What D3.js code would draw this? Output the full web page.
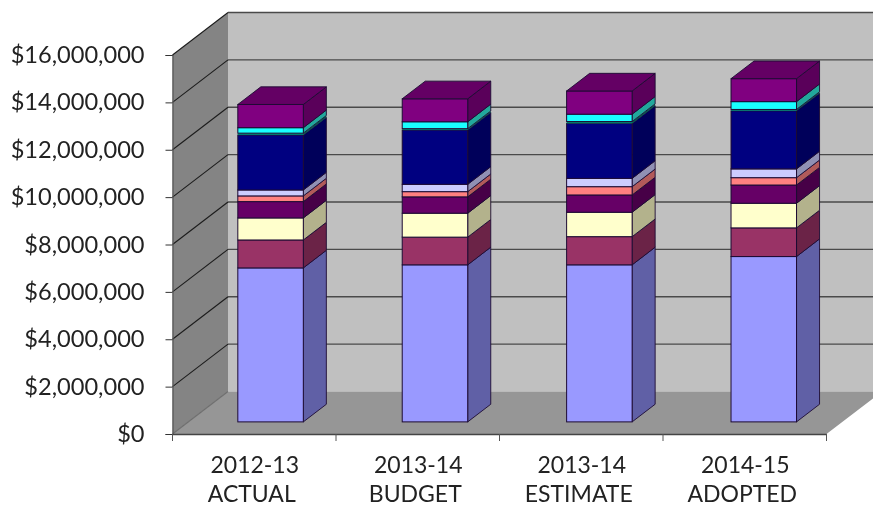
<!DOCTYPE html>
<html><head><meta charset="utf-8">
<script src="https://cdn.jsdelivr.net/npm/d3@7/dist/d3.min.js"></script>
<style>html,body{margin:0;padding:0;background:#fff;overflow:hidden}svg{display:block;filter:blur(0.35px)}</style>
</head><body><svg id="c" width="873" height="506"></svg>
<script>
const categories=[["2012-13","ACTUAL"],["2013-14","BUDGET"],["2013-14","ESTIMATE"],["2014-15","ADOPTED"]];
const tickValues=[0,2e6,4e6,6e6,8e6,10e6,12e6,14e6,16e6];
const lavender=[6.50,6.63,6.63,6.98];
const maroon=[1.18,1.17,1.19,1.21];
const cream=[0.93,1.01,1.03,1.04];
const plum=[0.69,0.69,0.73,0.77];
const salmon=[0.24,0.22,0.35,0.31];
const lilac=[0.25,0.31,0.35,0.37];
const navy=[2.32,2.29,2.32,2.45];
const teal=[0.08,0.06,0.08,0.06];
const cyan=[0.23,0.29,0.31,0.33];
const purple=[0.98,0.97,0.98,0.97];
const seriesValues=[lavender,maroon,cream,plum,salmon,lilac,navy,teal,cyan,purple];
const frontColors=["#9999ff","#993366","#ffffcc","#660066","#ff8080","#ccccff","#000080","#007a70","#19ffff","#800080"];
const sideColors=["#6060a6","#6b2347","#b3b28c","#470047","#b25a5a","#9090b4","#00005a","#005a50","#22a89c","#5a005a"];
const topColor="#640064";

const svg=d3.select("#c");
const x=d3.scaleBand().domain(d3.range(categories.length)).range([172.5,826.5]);
const y=d3.scaleLinear().domain([0,16e6]).range([434,55]);
const DX=55.5,DY=-42.5;
const proj=(px,py,z)=>[px+DX*z,py+DY*z];
const pts=a=>a.map(p=>p.join(",")).join(" ");
const x0=172.5,x1=826.5;

svg.append("rect").attr("x",x0+DX).attr("y",y(16e6)+DY).attr("width",873-x0-DX).attr("height",y(0)-y(16e6)).attr("fill","#c0c0c0");
svg.append("polygon").attr("points",pts([[x0,y(0)],[x0,y(16e6)],proj(x0,y(16e6),1),proj(x0,y(0),1)])).attr("fill","#848484");
svg.append("polygon").attr("points",pts([[x0,y(0)],[x1,y(0)],proj(x1,y(0),1),[900,y(0)+DY],proj(x0,y(0),1)])).attr("fill","#969696");

tickValues.forEach(v=>{
  const g=svg.append("g").attr("fill","none");
  if(v>0){
    g.append("line").attr("x1",x0+DX).attr("x2",873).attr("y1",y(v)+DY).attr("y2",y(v)+DY).attr("stroke","#4a4a4a").attr("stroke-width",1.3);
  }
  g.append("line").attr("x1",x0).attr("y1",y(v)).attr("x2",x0+DX).attr("y2",y(v)+DY).attr("stroke",v>0?"#1c1c1c":"#6e6e6e").attr("stroke-width",1.1);
});

const stack=d3.stack().keys(d3.range(seriesValues.length)).value((d,k)=>seriesValues[k][d]*1e6);
const layers=stack(d3.range(categories.length));
const barW=65.5,zFront=0.285,zBack=0.70,barStep=164.4;
const barX=i=>x(0)+(x.bandwidth()-barW)/2+0.5+barStep*i;
categories.forEach((c,i)=>{
  const g=svg.append("g");
  const l=barX(i),r=l+barW;
  layers.forEach((layer,k)=>{
    const [a,b]=layer[i];
    g.append("polygon").attr("points",pts([proj(r,y(a),zFront),proj(r,y(a),zBack),proj(r,y(b),zBack),proj(r,y(b),zFront)]))
      .attr("fill",sideColors[k]).attr("stroke","#1d0b33").attr("stroke-width",k===7?0:0.9).attr("stroke-linejoin","round");
    const fa=proj(l,y(a),zFront),fb=proj(r,y(b),zFront);
    g.append("rect").attr("x",fa[0]).attr("y",fb[1]).attr("width",barW).attr("height",fa[1]-fb[1])
      .attr("fill",frontColors[k]).attr("stroke","#1d0b33").attr("stroke-width",k===7?0:1);
  });
  const t=layers[layers.length-1][i][1];
  g.append("polygon").attr("points",pts([proj(l,y(t),zFront),proj(r,y(t),zFront),proj(r,y(t),zBack),proj(l,y(t),zBack)]))
    .attr("fill",topColor).attr("stroke","#1d0b33").attr("stroke-width",0.9).attr("stroke-linejoin","round");
});

const yAxis=svg.append("g").attr("transform",`translate(${x0},0)`)
  .call(d3.axisLeft(y).tickValues(tickValues).tickFormat(d3.format("$,.0f")).tickSize(7).tickPadding(21));
yAxis.select(".domain").attr("stroke","#555").attr("stroke-width",1.2);
yAxis.selectAll(".tick line").attr("stroke","#333");
yAxis.selectAll("text").attr("font-family","Lato, sans-serif").attr("font-size",23.6).attr("fill","#222");

const xAxis=svg.append("g").attr("transform",`translate(0,${y(0)})`)
  .call(d3.axisBottom(x).tickFormat("").tickSize(0));
xAxis.select(".domain").attr("stroke","#444").attr("stroke-width",1.3);
d3.range(categories.length+1).forEach(i=>{
  const px=x0+x.step()*i;
  svg.append("line").attr("x1",px).attr("x2",px).attr("y1",y(0)).attr("y2",y(0)+7).attr("stroke","#555");
});
categories.forEach((c,i)=>{
  const t=svg.append("text").attr("text-anchor","middle").attr("font-family","Lato, sans-serif").attr("font-size",23).attr("fill","#222");
  c.forEach((s,j)=>t.append("tspan").attr("x",x(i)+x.bandwidth()/2+0.5-(j?3:0)).attr("y",473+j*29).text(s));
});
</script></body></html>
